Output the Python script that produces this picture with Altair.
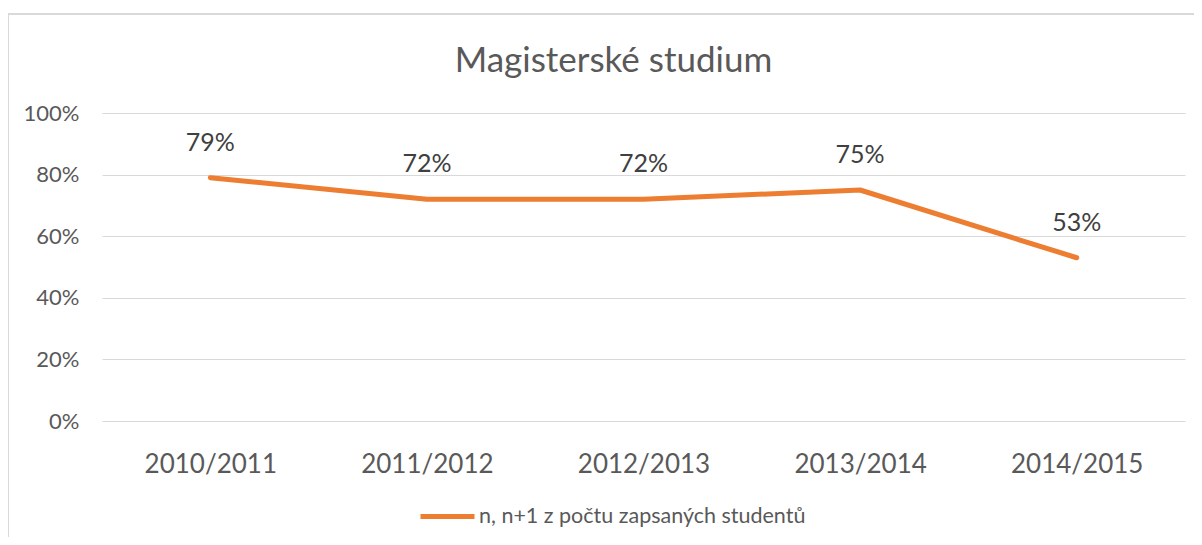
import altair as alt
import pandas as pd

years = ["2010/2011", "2011/2012", "2012/2013", "2013/2014", "2014/2015"]
values = [0.79, 0.72, 0.72, 0.75, 0.53]
series_name = "n, n+1 z počtu zapsaných studentů"
title_text = "Magisterské studium"

df = pd.DataFrame({"rok": years, "hodnota": values, "serie": [series_name] * len(years)})

FONT = "Lato"
GREY = "#595959"

base = alt.Chart(df)

border = base.mark_rect(fill=None, stroke="#D9D9D9", strokeWidth=1.5).encode(
    x=alt.value(-94), x2=alt.value(1098), y=alt.value(-99), y2=alt.value(450)
)

line = base.mark_line(strokeWidth=5, strokeCap="round", strokeJoin="round").encode(
    x=alt.X("rok:N", sort=years, title=None,
            axis=alt.Axis(labelAngle=0, labelFontSize=26, labelColor=GREY, labelFont=FONT,
                          ticks=False, domain=False, labelPadding=30, grid=False)),
    y=alt.Y("hodnota:Q", title=None, scale=alt.Scale(domain=[0, 1]),
            axis=alt.Axis(format=".0%", values=[0, 0.2, 0.4, 0.6, 0.8, 1.0], labelFontSize=22,
                          labelColor=GREY, labelFont=FONT, ticks=False, domain=False,
                          labelPadding=23, gridColor="#D9D9D9", gridWidth=1)),
    color=alt.Color("serie:N", title=None,
                    scale=alt.Scale(range=["#ED7D31"]),
                    legend=alt.Legend(orient="none", legendX=316, legendY=374,
                                      symbolType="stroke", symbolSize=2916, symbolStrokeWidth=5,
                                      labelFontSize=21.5, labelColor=GREY, labelFont=FONT,
                                      labelOffset=2, labelLimit=0)),
)

labels = base.mark_text(dy=-35, fontSize=25, font=FONT, color="#404040").encode(
    x=alt.X("rok:N", sort=years),
    y=alt.Y("hodnota:Q"),
    text=alt.Text("hodnota:Q", format=".0%"),
)

chart = alt.layer(border, line, labels).properties(
    width=1083, height=308,
    padding={"left": 94, "top": 105, "right": 9, "bottom": 116},
    autosize=alt.AutoSizeParams(type="none"),
    title=alt.Title(title_text, fontSize=35, font=FONT, color=GREY, fontWeight="normal",
                    offset=-66, dx=-30),
).configure_view(stroke=None)

chart.save("out.html", embed_options={"renderer": "svg", "actions": False})
